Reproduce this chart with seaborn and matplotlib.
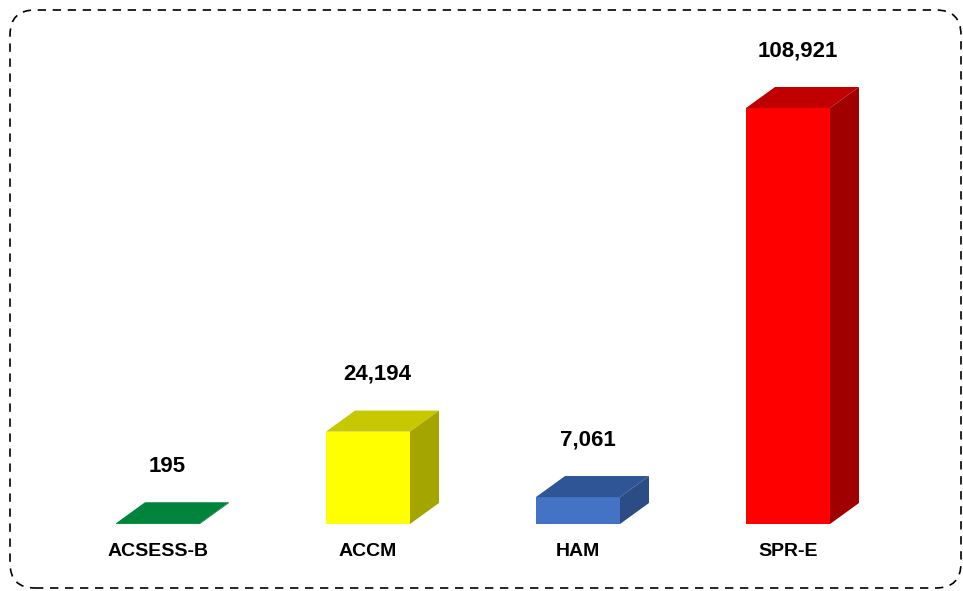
import matplotlib.pyplot as plt
import matplotlib.patches as mpatches
import matplotlib.transforms as mtransforms
import seaborn as sns
import pandas as pd

categories = ["ACSESS-B", "ACCM", "HAM", "SPR-E"]
values = [195, 24194, 7061, 108921]
front_colors = ["#00A046", "#FFFF00", "#4472C4", "#FF0000"]
top_colors = ["#00843C", "#C8C800", "#2F5597", "#C00000"]
side_colors = ["#006B30", "#A5A500", "#2B4C85", "#A00000"]

df = pd.DataFrame({"cat": categories, "val": values})

sns.set_theme(style="white")
plt.rcParams["font.family"] = ["Liberation Sans", "DejaVu Sans"]

fig = plt.figure(figsize=(9.63, 5.91), dpi=100)
ax = fig.add_axes([0, 0, 1, 1])

sns.barplot(data=df, x="cat", y="val", hue="cat", palette=front_colors,
            width=0.4, legend=False, ax=ax, saturation=1, linewidth=0)

# pixel geometry: bar spacing 210 px, baseline 67 px from bottom
px_per_x = 210
px_per_y = 416 / 108921
ax.set_xlim(-158 / px_per_x, (963 - 158) / px_per_x)
ax.set_ylim(-67 / px_per_y, (591 - 67) / px_per_y)

dx = 29 / px_per_x
dy = 21 / px_per_y

for i, p in enumerate(ax.patches):
    x0 = p.get_x()
    x1 = x0 + p.get_width()
    h = p.get_height()
    top = mpatches.Polygon([(x0, h), (x1, h), (x1 + dx, h + dy), (x0 + dx, h + dy)],
                           closed=True, facecolor=top_colors[i], edgecolor="none")
    side = mpatches.Polygon([(x1, 0), (x1 + dx, dy), (x1 + dx, h + dy), (x1, h)],
                            closed=True, facecolor=side_colors[i], edgecolor="none")
    ax.add_patch(top)
    ax.add_patch(side)
    cx = x0 + p.get_width() / 2
    ax.annotate(f"{values[i]:,}", xy=(cx + dx / 3, h + dy),
                xytext=(0, 26), textcoords="offset points", ha="center", va="center",
                fontsize=16, fontweight="bold", color="black")
    ax.annotate(categories[i], xy=(cx, 0), xytext=(0, -20),
                textcoords="offset points", ha="center", va="center",
                fontsize=14, fontweight="bold", color="black")

ax.set_xlabel("")
ax.set_ylabel("")
ax.set_xticks([])
ax.set_yticks([])
for s in ax.spines.values():
    s.set_visible(False)
ax.patch.set_alpha(0)

border = mpatches.FancyBboxPatch((10, 3), 951, 578,
                                 boxstyle="round,pad=0,rounding_size=25",
                                 transform=mtransforms.IdentityTransform(),
                                 facecolor="none", edgecolor="black",
                                 linestyle=(0, (5, 4)), linewidth=1.2)
fig.add_artist(border)

fig.savefig("out.png", dpi=100)
